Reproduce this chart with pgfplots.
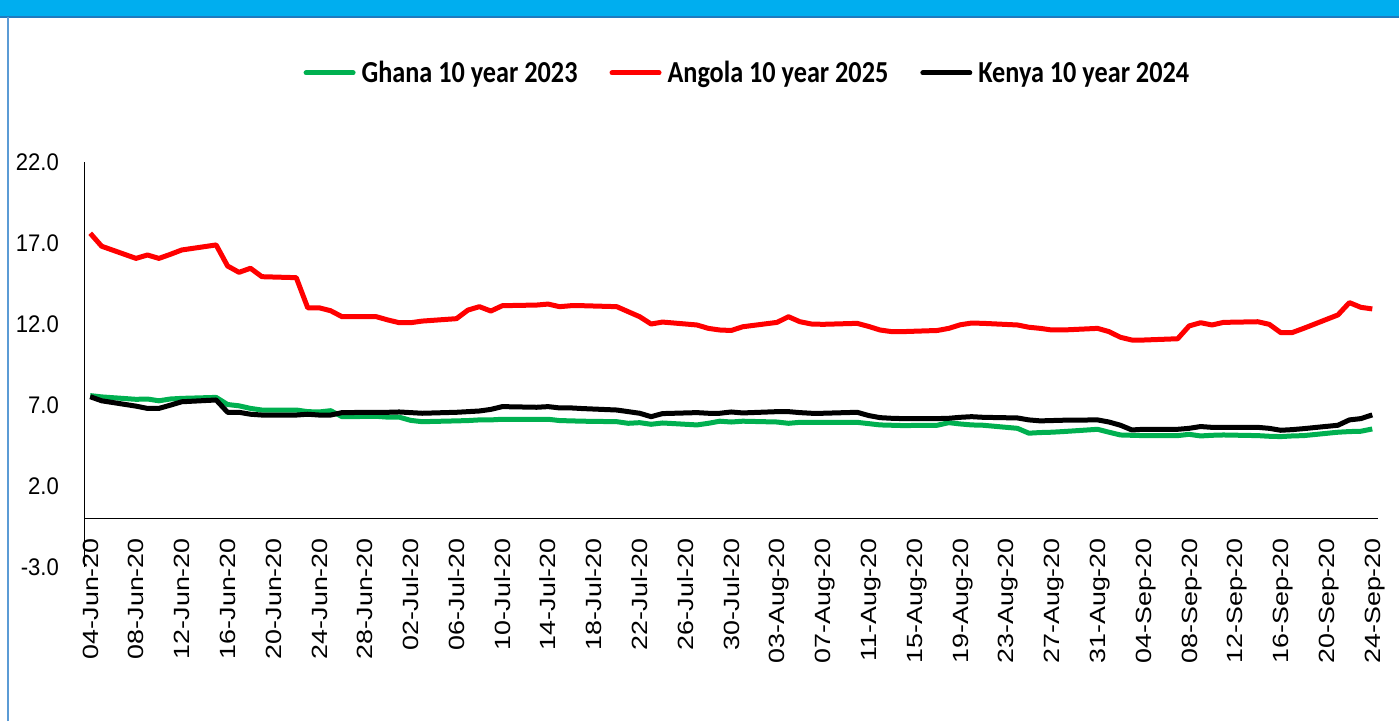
\documentclass[border=0pt]{standalone}
\usepackage{fontspec}
\setmainfont{Liberation Sans}
\usepackage{pgfplots}
\usepackage{pgfplotstable}
\pgfplotsset{compat=1.18}
\newfontfamily\legfont[FakeStretch=0.86]{Carlito}
\newfontfamily\yfont[FakeStretch=0.92]{Liberation Sans}
\newfontfamily\xfont[FakeStretch=1.22]{Liberation Sans}
\definecolor{exgreen}{HTML}{00B050}
\definecolor{exred}{HTML}{FF0000}
\definecolor{barblue}{HTML}{00AEEF}
\definecolor{edgeblue}{HTML}{5B9BD5}
\definecolor{darkedge}{HTML}{1F7BC0}

\pgfplotstableread{
d gh an ke
0 7.58 17.6 7.51
1 7.50 16.8 7.26
4 7.35 16.05 6.93
5 7.37 16.26 6.79
6 7.26 16.05 6.79
7 7.37 16.3 6.99
8 7.41 16.57 7.20
11 7.47 16.88 7.31
12 7.03 15.58 6.55
13 6.95 15.19 6.55
14 6.79 15.44 6.43
15 6.69 14.92 6.38
18 6.69 14.86 6.38
19 6.59 13.0 6.43
20 6.57 13.0 6.38
21 6.65 12.82 6.38
22 6.28 12.45 6.53
25 6.30 12.45 6.55
26 6.25 12.25 6.55
27 6.25 12.08 6.57
28 6.05 12.08 6.53
29 5.97 12.18 6.49
32 6.02 12.33 6.55
33 6.04 12.86 6.59
34 6.08 13.07 6.63
35 6.08 12.80 6.73
36 6.12 13.13 6.90
39 6.12 13.17 6.86
40 6.12 13.23 6.90
41 6.04 13.07 6.82
42 6.02 13.13 6.82
43 6.00 13.13 6.78
46 5.97 13.07 6.69
47 5.87 12.76 6.59
48 5.91 12.45 6.49
49 5.81 12.00 6.28
50 5.89 12.12 6.47
53 5.77 11.94 6.53
54 5.87 11.73 6.49
55 6.00 11.63 6.49
56 5.95 11.60 6.57
57 6.00 11.83 6.51
60 5.95 12.10 6.59
61 5.87 12.45 6.59
62 5.93 12.14 6.53
63 5.93 12.00 6.49
64 5.93 11.98 6.49
67 5.93 12.04 6.55
68 5.85 11.85 6.35
69 5.77 11.63 6.22
70 5.75 11.53 6.18
71 5.73 11.53 6.16
74 5.75 11.60 6.16
75 5.91 11.73 6.18
76 5.83 11.95 6.24
77 5.77 12.06 6.28
78 5.75 12.04 6.24
81 5.56 11.94 6.20
82 5.26 11.80 6.08
83 5.30 11.73 6.02
84 5.32 11.63 6.04
85 5.36 11.63 6.06
88 5.50 11.73 6.08
89 5.32 11.53 5.95
90 5.15 11.18 5.75
91 5.13 11.01 5.46
92 5.11 11.01 5.50
95 5.11 11.09 5.50
96 5.19 11.88 5.56
97 5.09 12.08 5.67
98 5.13 11.94 5.62
99 5.15 12.10 5.62
102 5.11 12.14 5.62
103 5.07 11.98 5.56
104 5.05 11.47 5.44
105 5.09 11.47 5.48
106 5.11 11.73 5.54
109 5.32 12.56 5.75
110 5.36 13.32 6.08
111 5.38 13.03 6.16
112 5.52 12.93 6.39
}\data

\begin{document}
\begin{tikzpicture}[x=1pt,y=1pt]
\useasboundingbox (0,0) rectangle (1399,721);
\fill[barblue] (0,704) rectangle (1399,721);
\draw[darkedge, line width=1.2pt] (0,704) -- (1399,704);
\draw[edgeblue, line width=1.5pt] (8,0) -- (8,704);
\begin{axis}[
  at={(84.5pt,154pt)}, anchor=south west,
  scale only axis, width=1293.5pt, height=405pt,
  xmin=-0.5, xmax=112.5, ymin=-3, ymax=22,
  axis x line*=bottom, axis y line*=left,
  x axis line style={draw=none},
  y axis line style={black, line width=1.5pt},
  major tick length=0pt,
  xtick={0,4,...,112},
  xticklabels={04-Jun-20,08-Jun-20,12-Jun-20,16-Jun-20,20-Jun-20,24-Jun-20,28-Jun-20,02-Jul-20,06-Jul-20,10-Jul-20,14-Jul-20,18-Jul-20,22-Jul-20,26-Jul-20,30-Jul-20,03-Aug-20,07-Aug-20,11-Aug-20,15-Aug-20,19-Aug-20,23-Aug-20,27-Aug-20,31-Aug-20,04-Sep-20,08-Sep-20,12-Sep-20,16-Sep-20,20-Sep-20,24-Sep-20},
  ytick={-3,2,7,12,17,22},
  yticklabels={-3.0,2.0,7.0,12.0,17.0,22.0},
  xticklabel style={font=\xfont\fontsize{22}{22}\selectfont, rotate=90, anchor=east, inner sep=0pt, text height=15.75pt, text depth=0pt},
  xticklabel shift=-29pt,
  yticklabel style={font=\yfont\fontsize{24}{24}\selectfont, anchor=east, inner sep=0pt, text height=17.2pt, text depth=0pt},
  yticklabel shift=25.5pt,
  clip=false,
  legend columns=3,
  legend style={at={(0.514,1.22)}, anchor=center, draw=none, fill=none,
    font=\legfont\bfseries\fontsize{30.5}{30.5}\selectfont,
    /tikz/every even column/.append style={column sep=26pt},
    inner sep=0pt, nodes={inner xsep=6pt, inner ysep=0pt}},
  legend image code/.code={\draw[#1, line cap=round] (0pt,0pt) -- (47pt,0pt);},
]
\addplot[black, line width=1.5pt, forget plot] coordinates {(-0.5,0) (112.5,0)};
\addplot[exgreen, line width=5pt, line join=round] table[x=d,y=gh]{\data};
\addplot[exred, line width=5pt, line join=round] table[x=d,y=an]{\data};
\addplot[black, line width=5pt, line join=round] table[x=d,y=ke]{\data};
\legend{Ghana 10 year 2023, Angola 10 year 2025, Kenya 10 year 2024}
\end{axis}
\end{tikzpicture}
\end{document}
